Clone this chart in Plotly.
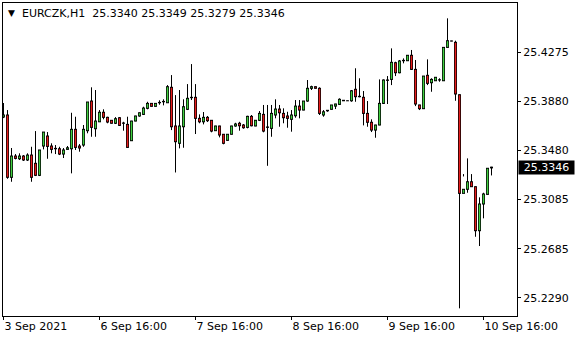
import plotly.graph_objects as go

symbol = "EURCZK,H1"

opens = [25.3751, 25.3768, 25.3264, 25.3436, 25.3414, 25.3436, 25.3404, 25.3444, 25.3377, 25.3280,
         25.3517, 25.3598, 25.3517, 25.3495, 25.3495, 25.3452, 25.3490, 25.3495, 25.3652, 25.3517,
         25.3525, 25.3641, 25.3881, 25.3657, 25.3713, 25.3790, 25.3749, 25.3725, 25.3701, 25.3746,
         25.3701, 25.3692, 25.3560, 25.3719, 25.3760, 25.3773, 25.3822, 25.3862, 25.3838, 25.3867,
         25.3875, 25.3867, 25.3992, 25.3679, 25.3539, 25.3673, 25.3814, 25.3908, 25.3911, 25.3741,
         25.3713, 25.3749, 25.3725, 25.3641, 25.3679, 25.3612, 25.3563, 25.3612, 25.3679, 25.3701,
         25.3687, 25.3668, 25.3757, 25.3679, 25.3725, 25.3773, 25.3668, 25.3660, 25.3768, 25.3816,
         25.3781, 25.3760, 25.3733, 25.3762, 25.3840, 25.3808, 25.3881, 25.3984, 25.3997, 25.3984,
         25.3768, 25.3802, 25.3814, 25.3840, 25.3854, 25.3883, 25.3883, 25.3883, 25.3976, 25.3916,
         25.3911, 25.3781, 25.3709, 25.3646, 25.3687, 25.3862, 25.4048, 25.4056, 25.4191, 25.4110,
         25.4207, 25.4207, 25.4251, 25.4137, 25.3849, 25.3819, 25.4089, 25.4029, 25.4045, 25.4051,
         25.4045, 25.4315, 25.4367, 25.4356, 25.3932, 25.3134, 25.3167, 25.3228, 25.3188, 25.2832,
         25.3048, 25.3126, 25.3340]
highs = [25.3865, 25.3808, 25.3501, 25.3452, 25.3458, 25.3444, 25.3458, 25.3511, 25.3638, 25.3485,
         25.3630, 25.3630, 25.3539, 25.3525, 25.3511, 25.3501, 25.3517, 25.3786, 25.3754, 25.3533,
         25.3687, 25.3873, 25.3992, 25.3970, 25.3808, 25.3814, 25.3754, 25.3727, 25.3751, 25.3751,
         25.3713, 25.3754, 25.3721, 25.3762, 25.3788, 25.3835, 25.3875, 25.3864, 25.3864, 25.3887,
         25.3895, 25.4010, 25.4091, 25.3929, 25.3970, 25.3895, 25.4018, 25.4180, 25.4018, 25.3773,
         25.3792, 25.3760, 25.3727, 25.3681, 25.3681, 25.3614, 25.3614, 25.3681, 25.3705, 25.3713,
         25.3695, 25.3762, 25.3768, 25.3727, 25.3800, 25.3849, 25.3849, 25.3849, 25.3895, 25.3849,
         25.3822, 25.3794, 25.3808, 25.3889, 25.3889, 25.3881, 25.4051, 25.4005, 25.3999, 25.3992,
         25.3808, 25.3808, 25.3849, 25.3859, 25.3903, 25.3889, 25.3885, 25.3970, 25.4146, 25.4065,
         25.3962, 25.3881, 25.3733, 25.3689, 25.4056, 25.4056, 25.4083, 25.4307, 25.4199, 25.4213,
         25.4226, 25.4251, 25.4294, 25.4213, 25.3851, 25.4083, 25.4218, 25.4065, 25.4073, 25.4065,
         25.4318, 25.4550, 25.4369, 25.4369, 25.3934, 25.3290, 25.3417, 25.3290, 25.3190, 25.3102,
         25.3139, 25.3339, 25.3349]
lows = [25.3743, 25.3252, 25.3228, 25.3409, 25.3404, 25.3396, 25.3396, 25.3228, 25.3274, 25.3274,
        25.3490, 25.3414, 25.3458, 25.3452, 25.3444, 25.3420, 25.3488, 25.3296, 25.3485, 25.3471,
        25.3511, 25.3620, 25.3592, 25.3592, 25.3711, 25.3733, 25.3701, 25.3699, 25.3695, 25.3679,
        25.3641, 25.3504, 25.3558, 25.3717, 25.3754, 25.3768, 25.3814, 25.3836, 25.3836, 25.3851,
        25.3846, 25.3865, 25.3646, 25.3303, 25.3498, 25.3503, 25.3808, 25.3889, 25.3614, 25.3701,
        25.3692, 25.3711, 25.3628, 25.3639, 25.3587, 25.3531, 25.3561, 25.3610, 25.3673, 25.3641,
        25.3657, 25.3660, 25.3676, 25.3677, 25.3719, 25.3628, 25.3357, 25.3592, 25.3741, 25.3673,
        25.3701, 25.3665, 25.3633, 25.3746, 25.3741, 25.3806, 25.3875, 25.3970, 25.3982, 25.3768,
        25.3754, 25.3794, 25.3812, 25.3816, 25.3849, 25.3881, 25.3881, 25.3875, 25.3875, 25.3911,
        25.3684, 25.3673, 25.3630, 25.3584, 25.3685, 25.3857, 25.3857, 25.4010, 25.4083, 25.4105,
        25.4186, 25.4205, 25.4132, 25.3840, 25.3808, 25.3817, 25.4010, 25.3956, 25.4043, 25.4037,
        25.4043, 25.4313, 25.4364, 25.3883, 25.2204, 25.3271, 25.3139, 25.3186, 25.2783, 25.2708,
        25.2932, 25.3124, 25.3279]
closes = [25.3768, 25.3264, 25.3436, 25.3417, 25.3436, 25.3404, 25.3444, 25.3264, 25.3280, 25.3485,
          25.3630, 25.3514, 25.3490, 25.3498, 25.3452, 25.3485, 25.3503, 25.3652, 25.3506, 25.3501,
          25.3652, 25.3873, 25.3668, 25.3719, 25.3790, 25.3749, 25.3711, 25.3701, 25.3738, 25.3684,
          25.3703, 25.3506, 25.3719, 25.3760, 25.3786, 25.3824, 25.3862, 25.3838, 25.3862, 25.3870,
          25.3878, 25.3997, 25.3673, 25.3552, 25.3679, 25.3835, 25.3903, 25.3911, 25.3741, 25.3713,
          25.3749, 25.3722, 25.3638, 25.3679, 25.3606, 25.3539, 25.3612, 25.3679, 25.3695, 25.3681,
          25.3665, 25.3757, 25.3681, 25.3725, 25.3781, 25.3638, 25.3671, 25.3781, 25.3816, 25.3786,
          25.3746, 25.3741, 25.3768, 25.3840, 25.3808, 25.3881, 25.3984, 25.3997, 25.3984, 25.3781,
          25.3794, 25.3806, 25.3849, 25.3857, 25.3895, 25.3887, 25.3883, 25.3964, 25.3916, 25.3919,
          25.3781, 25.3709, 25.3646, 25.3687, 25.3862, 25.4051, 25.4051, 25.4194, 25.4110, 25.4205,
          25.4210, 25.4251, 25.4137, 25.3857, 25.3819, 25.4083, 25.4024, 25.4056, 25.4073, 25.4053,
          25.4315, 25.4369, 25.4366, 25.3938, 25.3134, 25.3167, 25.3228, 25.3188, 25.2832, 25.3048,
          25.3129, 25.3337, 25.3346]

bar_index = list(range(len(closes)))
time_tick_bars = [0, 24, 48, 72, 96, 120]
time_tick_labels = ["3 Sep 2021", "6 Sep 16:00", "7 Sep 16:00", "8 Sep 16:00", "9 Sep 16:00", "10 Sep 16:00"]
price_ticks = [25.4275, 25.3880, 25.3480, 25.3085, 25.2685, 25.2290]
price_tick_labels = ["25.4275", "25.3880", "25.3480", "25.3085", "25.2685", "25.2290"]
last_price = closes[-1]

FONT = "DejaVu Sans"
UP = "#40d040"
DOWN = "#e81c1c"

Y_RANGE = [25.2142, 25.4674]
PLOT_H = 340 - 3 - 24
PX = (Y_RANGE[1] - Y_RANGE[0]) / PLOT_H  # price per screen pixel (outline thickness)


def segments(idx, lo, hi):
    xs, ys = [], []
    for i, a, b in zip(idx, lo, hi):
        xs += [i, i, None]
        ys += [a, b, None]
    return xs, ys


lo_body = [min(o, c) for o, c in zip(opens, closes)]
hi_body = [max(o, c) for o, c in zip(opens, closes)]

wick_x, wick_y = segments(bar_index, lows, highs)
out_x, out_y = segments(bar_index, [b - 0.5 * PX for b in lo_body], [t + 0.5 * PX for t in hi_body])

up_i = [i for i in bar_index if closes[i] >= opens[i] and hi_body[i] - lo_body[i] > PX]
dn_i = [i for i in bar_index if closes[i] < opens[i] and hi_body[i] - lo_body[i] > PX]
up_x, up_y = segments(up_i, [lo_body[i] + 0.5 * PX for i in up_i], [hi_body[i] - 0.5 * PX for i in up_i])
dn_x, dn_y = segments(dn_i, [lo_body[i] + 0.5 * PX for i in dn_i], [hi_body[i] - 0.5 * PX for i in dn_i])

fig = go.Figure()
for xs, ys, col, w in [(wick_x, wick_y, "black", 1), (out_x, out_y, "black", 3),
                       (up_x, up_y, UP, 1.5), (dn_x, dn_y, DOWN, 1.5)]:
    fig.add_trace(go.Scatter(
        x=xs, y=ys, mode="lines", line=dict(color=col, width=w),
        connectgaps=False, hoverinfo="skip", showlegend=False,
    ))

fig.update_layout(
    width=580, height=340,
    margin=dict(l=3, r=63, t=3, b=24),
    paper_bgcolor="white", plot_bgcolor="white",
    showlegend=False,
    font=dict(family=FONT, size=11, color="black"),
)
fig.update_xaxes(
    range=[-0.125, 128.375],
    showgrid=False, zeroline=False,
    showline=True, linecolor="black", linewidth=1, mirror=True,
    ticks="outside", ticklen=3, tickcolor="black", tickwidth=1,
    tickvals=time_tick_bars, ticktext=time_tick_labels,
    ticklabelposition="outside right",
    tickfont=dict(family=FONT, size=11, color="black"),
)
fig.update_yaxes(
    range=Y_RANGE, side="right",
    showgrid=False, zeroline=False,
    showline=True, linecolor="black", linewidth=1, mirror=True,
    ticks="outside", ticklen=3, tickcolor="black", tickwidth=1,
    tickvals=price_ticks, ticktext=price_tick_labels,
    tickfont=dict(family=FONT, size=11, color="black"),
)

fig.add_annotation(
    xref="paper", yref="y", x=1, y=last_price, xanchor="left", yanchor="middle",
    xshift=1, text=f"{last_price:.4f}", showarrow=False,
    bgcolor="black", font=dict(family=FONT, size=11, color="white"),
    width=55, height=13, borderpad=0,
)
header = "\u00a0".join([symbol + "\u00a0", f"{opens[-1]:.4f}", f"{highs[-1]:.4f}",
                        f"{lows[-1]:.4f}", f"{closes[-1]:.4f}"])
fig.add_annotation(
    xref="paper", yref="paper", x=0, y=1, xanchor="left", yanchor="top",
    xshift=3, yshift=-3, text="\u25bc", showarrow=False,
    font=dict(family=FONT, size=9, color="black"),
)
fig.add_annotation(
    xref="paper", yref="paper", x=0, y=1, xanchor="left", yanchor="top",
    xshift=17, yshift=-2, text=header, showarrow=False,
    font=dict(family=FONT, size=11, color="black"),
)

fig.write_html("out.html")
